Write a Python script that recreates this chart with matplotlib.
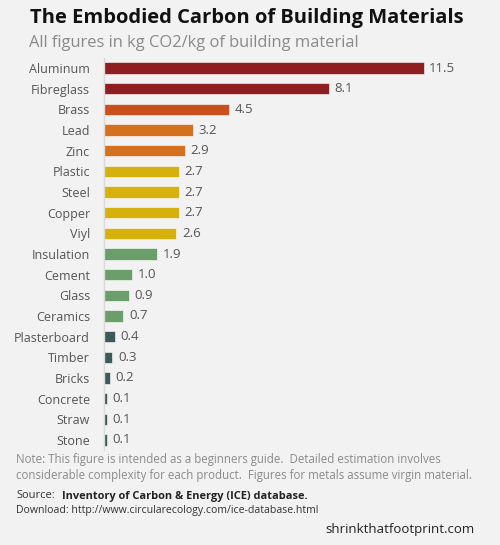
import matplotlib
matplotlib.use("Agg")
import matplotlib.pyplot as plt

materials = ["Aluminum", "Fibreglass", "Brass", "Lead", "Zinc", "Plastic", "Steel",
             "Copper", "Viyl", "Insulation", "Cement", "Glass", "Ceramics",
             "Plasterboard", "Timber", "Bricks", "Concrete", "Straw", "Stone"]
values = [11.5, 8.1, 4.5, 3.2, 2.9, 2.7, 2.7, 2.7, 2.6, 1.9, 1.0, 0.9, 0.7,
          0.4, 0.3, 0.2, 0.1, 0.1, 0.1]
groups = ["red", "red", "brass", "orange", "orange", "yellow", "yellow", "yellow",
          "yellow", "green", "green", "green", "green", "teal", "teal", "teal",
          "teal", "teal", "teal"]
palette = {"red": "#8E1E22", "brass": "#C94F1F", "orange": "#D4701E",
           "yellow": "#D6B10E", "green": "#6A9F69", "teal": "#3C5A5A"}

BG = "#F2F2F2"
W, H = 500, 545
fig = plt.figure(figsize=(W / 100, H / 100), dpi=100, facecolor=BG)
plt.rcParams["font.family"] = ["Open Sans", "DejaVu Sans"]

# axes in pixel coords: left 104, right 480, top 57.7, bottom 450.3
left, right, top, bottom = 104, 480, 57.7, 450.3
ax = fig.add_axes([left / W, 1 - bottom / H, (right - left) / W, (bottom - top) / H])
ax.set_facecolor(BG)
n = len(materials)
ypos = list(range(n))
colors = [palette[g] for g in groups]
ax.barh(ypos, values, height=0.56, color=colors, edgecolor="white", linewidth=0.4)
ax.set_ylim(n - 0.5, -0.5)
ax.set_xlim(0, (right - left) / 27.8)
for y, v in zip(ypos, values):
    ax.text(v + 0.2, y, f"{v:.1f}", va="center", ha="left", fontsize=9.5, color="#555555")
ax.set_yticks(ypos)
ax.set_yticklabels(materials, fontsize=9, color="#555555")
ax.tick_params(axis="y", length=0, pad=10)
ax.set_xticks([])
for s in ["top", "right", "bottom"]:
    ax.spines[s].set_visible(False)
ax.spines["left"].set_color("#DADADA")
ax.spines["left"].set_linewidth(1.0)

def px(x, y):
    return x / W, 1 - y / H

fig.text(*px(30, 18), "The Embodied Carbon of Building Materials", fontsize=14.5,
         fontweight="bold", color="#111111", va="center", ha="left")
fig.text(*px(29, 43), "All figures in kg CO2/kg of building material", fontsize=11.9,
         color="#8A8A8A", va="center", ha="left")
fig.text(*px(16, 460), "Note: This figure is intended as a beginners guide.  Detailed estimation involves",
         fontsize=8.3, color="#8A8A8A", va="center", ha="left")
fig.text(*px(16, 475), "considerable complexity for each product.  Figures for metals assume virgin material.",
         fontsize=8.3, color="#8A8A8A", va="center", ha="left")
fig.text(*px(16, 496), "Source:", fontsize=8, color="#333333", va="center", ha="left")
fig.text(*px(62, 496), "Inventory of Carbon & Energy (ICE) database.", fontsize=7.9,
         fontweight="bold", color="#222222", va="center", ha="left")
fig.text(*px(16, 511), "Download: http://www.circularecology.com/ice-database.html",
         fontsize=7.6, color="#333333", va="center", ha="left")
fig.text(*px(475, 530), "shrinkthatfootprint.com", fontsize=9.5, color="#222222",
         va="center", ha="right")

fig.savefig("out.png", dpi=100, facecolor=BG)
